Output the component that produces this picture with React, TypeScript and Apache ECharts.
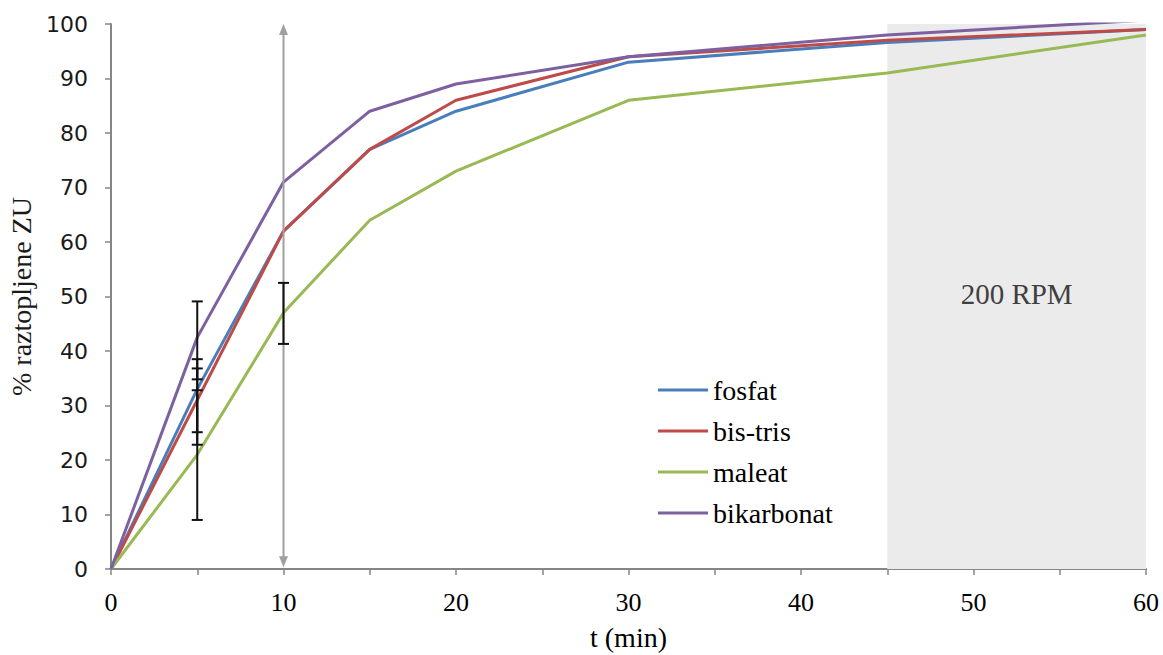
import React, { useEffect, useRef } from "react";
import * as echarts from "echarts";

const times = [0, 5, 10, 15, 20, 30, 45, 60];
const fosfat = [0, 33, 62, 77, 84, 93, 96.6, 99];
const bisTris = [0, 31, 62, 77, 86, 94, 97, 99];
const maleat = [0, 21, 47, 64, 73, 86, 91, 98];
const bikarbonat = [0, 42.5, 71, 84, 89, 94, 98, 100.7];

const seriesNames = ["fosfat", "bis-tris", "maleat", "bikarbonat"];
const seriesColors = ["#4a7ebb", "#be4b48", "#98b954", "#7d60a0"];

const errX = [5, 5, 5, 5, 10];
const errLow = [9, 34.8, 25.1, 22.8, 41.3];
const errHigh = [32.8, 49.1, 38.5, 36.8, 52.5];

const arrowX = 10;
const arrowFrom = 0.3;
const arrowTo = 100;

const bandFrom = 45;
const bandTo = 60;
const bandLabel = "200 RPM";

const xTitle = "t (min)";
const yTitle = "% raztopljene ZU";

const serif = "Liberation Serif";
const sans = "DejaVu Sans";

export default function App() {
  const ref = useRef<HTMLDivElement>(null);
  useEffect(() => {
    if (!ref.current) return;
    const chart = echarts.init(ref.current, null, { renderer: "svg" });
    const values = [fosfat, bisTris, maleat, bikarbonat];
    const lineSeries = values.map((vals, i) => ({
      name: seriesNames[i],
      type: "line",
      data: times.map((t, j) => [t, vals[j]]),
      symbol: "none",
      lineStyle: { color: seriesColors[i], width: 3 },
      itemStyle: { color: seriesColors[i] },
      z: 3,
    }));
    chart.setOption({
      animation: false,
      textStyle: { fontFamily: serif },
      grid: { left: 111, right: 17, top: 24, bottom: 86, outerBoundsMode: "none", containLabel: false },
      legend: {
        data: seriesNames,
        orient: "vertical",
        left: 653,
        top: 370,
        icon: "rect",
        itemWidth: 50,
        itemHeight: 3,
        itemGap: 11,
        textStyle: { fontFamily: serif, fontSize: 28, color: "#000", lineHeight: 30 },
      },
      xAxis: {
        type: "value",
        min: 0,
        max: 60,
        interval: 5,
        name: xTitle,
        nameLocation: "middle",
        nameGap: 54,
        nameTextStyle: { fontFamily: serif, fontSize: 28, color: "#000" },
        axisLine: { lineStyle: { color: "#868686", width: 2 } },
        axisTick: { show: true, inside: false, length: 6, lineStyle: { color: "#868686", width: 1.5 } },
        axisLabel: {
          fontFamily: serif,
          fontSize: 26,
          color: "#000",
          margin: 20,
          formatter: (v: number) => (v % 10 === 0 ? String(v) : ""),
        },
        splitLine: { show: false },
      },
      yAxis: {
        type: "value",
        min: 0,
        max: 100,
        interval: 10,
        name: yTitle,
        nameLocation: "middle",
        nameGap: 69,
        nameRotate: 90,
        nameTextStyle: { fontFamily: serif, fontSize: 28, color: "#1a1a1a" },
        axisLine: { show: true, lineStyle: { color: "#868686", width: 2 } },
        axisTick: { show: true, inside: false, length: 6, lineStyle: { color: "#868686", width: 1.5 } },
        axisLabel: { fontFamily: sans, fontSize: 22, color: "#1a1a1a", margin: 23 },
        splitLine: { show: false },
      },
      series: [
        {
          name: "band",
          type: "line",
          data: [],
          z: 1,
          markArea: {
            silent: true,
            itemStyle: { color: "#ebebeb" },
            label: {
              show: true,
              position: "inside",
              formatter: bandLabel,
              fontFamily: serif,
              fontSize: 29,
              color: "#404040",
              offset: [0, -3],
            },
            data: [[{ xAxis: bandFrom }, { xAxis: bandTo }]],
          },
        },
        ...lineSeries,
        {
          name: "arrow",
          type: "custom",
          z: 4,
          silent: true,
          data: [[arrowX, arrowFrom, arrowTo]],
          encode: { x: 0, y: [1, 2] },
          renderItem: (params: any, api: any) => {
            const x = api.value(0);
            const lo = api.coord([x, api.value(1)]);
            const hi = api.coord([x, api.value(2)]);
            const hl = 11;
            const hw = 4.5;
            const col = "#a0a0a0";
            return {
              type: "group",
              children: [
                {
                  type: "line",
                  shape: { x1: lo[0], y1: lo[1] - hl + 2, x2: hi[0], y2: hi[1] + hl - 2 },
                  style: { stroke: col, lineWidth: 2 },
                },
                {
                  type: "polygon",
                  shape: { points: [[hi[0], hi[1]], [hi[0] - hw, hi[1] + hl], [hi[0] + hw, hi[1] + hl]] },
                  style: { fill: col },
                },
                {
                  type: "polygon",
                  shape: { points: [[lo[0], lo[1]], [lo[0] - hw, lo[1] - hl], [lo[0] + hw, lo[1] - hl]] },
                  style: { fill: col },
                },
              ],
            };
          },
        },
        {
          name: "errors",
          type: "custom",
          z: 5,
          silent: true,
          data: errX.map((x, i) => [x, errLow[i], errHigh[i]]),
          encode: { x: 0, y: [1, 2] },
          renderItem: (params: any, api: any) => {
            const x = api.value(0);
            const lo = api.coord([x, api.value(1)]);
            const hi = api.coord([x, api.value(2)]);
            const cw = 5.5;
            const st = { stroke: "#111", lineWidth: 2 };
            return {
              type: "group",
              children: [
                { type: "line", shape: { x1: lo[0], y1: lo[1], x2: hi[0], y2: hi[1] }, style: st },
                { type: "line", shape: { x1: lo[0] - cw, y1: lo[1], x2: lo[0] + cw, y2: lo[1] }, style: st },
                { type: "line", shape: { x1: hi[0] - cw, y1: hi[1], x2: hi[0] + cw, y2: hi[1] }, style: st },
              ],
            };
          },
        },
      ],
    });
    return () => chart.dispose();
  }, []);
  return (
    <div
      ref={ref}
      style={{ position: "absolute", left: 0, top: 0, width: 1163, height: 655, background: "#fff" }}
    />
  );
}
